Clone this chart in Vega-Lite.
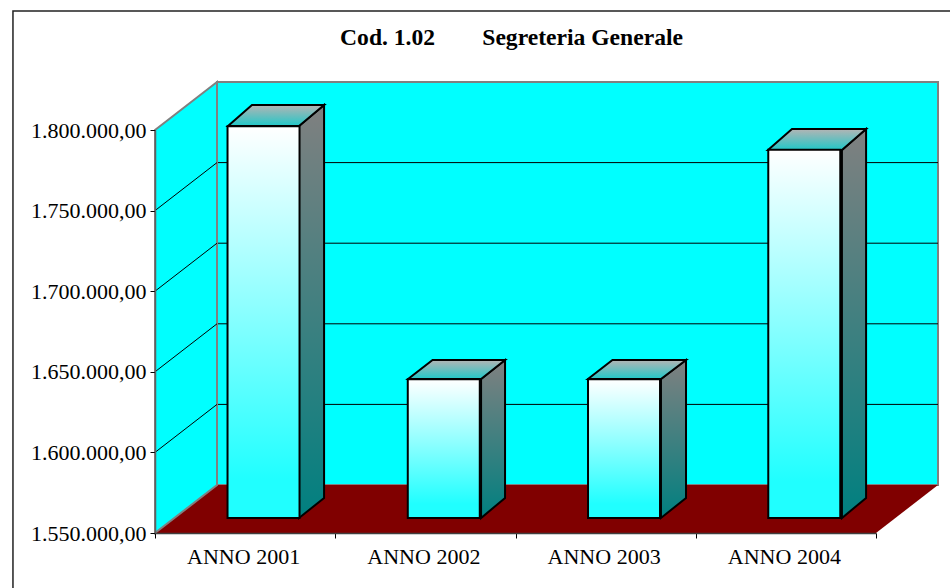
{
"$schema":"https://vega.github.io/schema/vega-lite/v6.json",
"width":721,"height":403,
"autosize":{"type":"none"},
"padding":{"left":155,"top":130,"right":74,"bottom":55},
"background":"white",
"config":{"locale":{"number":{"decimal":",","thousands":".","grouping":[3],"currency":["€",""]}},"view":{"stroke":null}},
"title":{"text":"Cod. 1.02\u00a0\u00a0\u00a0\u00a0\u00a0\u00a0\u00a0\u00a0Segreteria Generale","anchor":"middle","dx":-4,"offset":-39,"font":"Liberation Serif","fontSize":23.6,"fontWeight":"bold","color":"black"},
"datasets":{
"frame":[{"x0":-0.788,"x1":4.6,"y0":1500000,"y1":1873823}],
"backwall":[{"x":0.344,"y":1829778,"y2":1579777},{"x":4.344,"y":1829778,"y2":1579777}],
"leftwall":[{"x":0,"y":1800000,"y2":1550000},{"x":0.344,"y":1829778,"y2":1579777}],
"floor":[{"x":0,"y":1550000,"y2":1550000},{"x":0.344,"y":1579777,"y2":1550000},{"x":4,"y":1579777,"y2":1550000},{"x":4.344,"y":1579777,"y2":1579777}],
"grid":[
{"g":"1600000","x":0,"y":1600000},{"g":"1600000","x":0.344,"y":1629777},{"g":"1600000","x":4.344,"y":1629777},
{"g":"1650000","x":0,"y":1650000},{"g":"1650000","x":0.344,"y":1679777},{"g":"1650000","x":4.344,"y":1679777},
{"g":"1700000","x":0,"y":1700000},{"g":"1700000","x":0.344,"y":1729777},{"g":"1700000","x":4.344,"y":1729777},
{"g":"1750000","x":0,"y":1750000},{"g":"1750000","x":0.344,"y":1779777},{"g":"1750000","x":4.344,"y":1779777}
],
"bars":[
{"anno":"ANNO 2001","c":0.5,"value":1793000},
{"anno":"ANNO 2002","c":1.5,"value":1636000},
{"anno":"ANNO 2003","c":2.5,"value":1636000},
{"anno":"ANNO 2004","c":3.5,"value":1778500}
],
"side":[
{"anno":"ANNO 2001","x":0.799,"y":1802482,"y2":1559305},{"anno":"ANNO 2001","x":0.938,"y":1815510,"y2":1571712},
{"anno":"ANNO 2002","x":1.809,"y":1645534,"y2":1559305},{"anno":"ANNO 2002","x":1.942,"y":1657321,"y2":1571712},
{"anno":"ANNO 2003","x":2.807,"y":1645534,"y2":1559305},{"anno":"ANNO 2003","x":2.946,"y":1657321,"y2":1571712},
{"anno":"ANNO 2004","x":3.811,"y":1787594,"y2":1559305},{"anno":"ANNO 2004","x":3.945,"y":1800621,"y2":1571712}
],
"top":[
{"anno":"ANNO 2001","x":0.405,"y":1802482,"y2":1802482},{"anno":"ANNO 2001","x":0.538,"y":1815510,"y2":1802482},{"anno":"ANNO 2001","x":0.799,"y":1815510,"y2":1802482},{"anno":"ANNO 2001","x":0.938,"y":1815510,"y2":1815510},
{"anno":"ANNO 2002","x":1.404,"y":1645534,"y2":1645534},{"anno":"ANNO 2002","x":1.540,"y":1657321,"y2":1645534},{"anno":"ANNO 2002","x":1.809,"y":1657321,"y2":1645534},{"anno":"ANNO 2002","x":1.942,"y":1657321,"y2":1657321},
{"anno":"ANNO 2003","x":2.402,"y":1645534,"y2":1645534},{"anno":"ANNO 2003","x":2.538,"y":1657321,"y2":1645534},{"anno":"ANNO 2003","x":2.807,"y":1657321,"y2":1645534},{"anno":"ANNO 2003","x":2.946,"y":1657321,"y2":1657321},
{"anno":"ANNO 2004","x":3.401,"y":1787594,"y2":1787594},{"anno":"ANNO 2004","x":3.534,"y":1800621,"y2":1787594},{"anno":"ANNO 2004","x":3.811,"y":1800621,"y2":1787594},{"anno":"ANNO 2004","x":3.945,"y":1800621,"y2":1800621}
]
},
"encoding":{
"x":{"field":"x","type":"quantitative","scale":{"domain":[0,4],"nice":false,"zero":false,"padding":0},
"axis":{"title":null,"grid":false,"values":[0,0.5,1,1.5,2,2.5,3,3.5,4],"labelExpr":"datum.value==0.5?'ANNO 2001':datum.value==1.5?'ANNO 2002':datum.value==2.5?'ANNO 2003':datum.value==3.5?'ANNO 2004':''","labelFont":"Liberation Serif","labelFontSize":22,"labelColor":"black","labelPadding":8,"labelOffset":-2,"labelOverlap":false,"labelFlush":false,"labelBound":false,"tickColor":"black","tickSize":5,"tickOpacity":{"condition":{"test":"datum.value%1===0","value":1},"value":0},"domainColor":"#404040","domainWidth":1.5,"zindex":1}},
"y":{"field":"y","type":"quantitative","scale":{"domain":[1550000,1800000],"nice":false,"zero":false,"padding":0},
"axis":{"title":null,"grid":false,"values":[1550000,1600000,1650000,1700000,1750000,1800000],"format":",.2f","labelFont":"Liberation Serif","labelFontSize":22,"labelColor":"black","labelPadding":4,"labelOverlap":false,"labelFlush":false,"labelBound":false,"tickColor":"black","tickSize":5,"domainColor":"#606060","domainWidth":1.5,"zindex":1}},
"y2":{"field":"y2"}
},
"layer":[
{"data":{"name":"frame"},"mark":{"type":"rect","fillOpacity":0,"stroke":"#222222","strokeWidth":1.5},
 "encoding":{"x":{"field":"x0","type":"quantitative","scale":{"domain":[0,4],"nice":false,"zero":false,"padding":0}},"x2":{"field":"x1"},"y":{"field":"y0","type":"quantitative"},"y2":{"field":"y1"}}},
{"data":{"name":"backwall"},"mark":{"type":"area","orient":"vertical","color":"#00FFFF","stroke":"#808080","strokeWidth":2}},
{"data":{"name":"grid"},"mark":{"type":"line","color":"black","strokeWidth":1},"encoding":{"detail":{"field":"g"},"y2":null,"order":{"field":"x","type":"quantitative"}}},
{"data":{"name":"floor"},"mark":{"type":"area","orient":"vertical","color":"#800000"}},
{"data":{"name":"leftwall"},"mark":{"type":"area","orient":"vertical","color":"#00FFFF","stroke":"#808080","strokeWidth":2}},
{"data":{"name":"grid"},"transform":[{"filter":"datum.x<0.5"}],"mark":{"type":"line","color":"black","strokeWidth":1},"encoding":{"detail":{"field":"g"},"y2":null}},
{"data":{"name":"side"},"mark":{"type":"area","orient":"vertical","stroke":"black","strokeWidth":2,"color":{"gradient":"linear","x1":0,"y1":0,"x2":0,"y2":1,"stops":[{"offset":0,"color":"#808080"},{"offset":1,"color":"#008080"}]}},"encoding":{"detail":{"field":"anno"}}},
{"data":{"name":"top"},"mark":{"type":"area","orient":"vertical","stroke":"black","strokeWidth":2,"color":{"gradient":"linear","x1":0,"y1":0,"x2":0,"y2":1,"stops":[{"offset":0,"color":"#B4B4B4"},{"offset":1,"color":"#20C8C8"}]}},"encoding":{"detail":{"field":"anno"}}},
{"data":{"name":"bars"},"mark":{"type":"bar","width":72,"xOffset":18.4,"yOffset":-15,"y2Offset":-15,"stroke":"black","strokeWidth":2,"color":{"gradient":"linear","x1":0,"y1":0,"x2":0,"y2":1,"stops":[{"offset":0,"color":"#FFFFFF"},{"offset":0.9,"color":"#20FFFF"},{"offset":1,"color":"#20FFFF"}]}},
 "encoding":{"x":{"field":"c","type":"quantitative","scale":{"domain":[0,4],"nice":false,"zero":false,"padding":0}},"y":{"field":"value","type":"quantitative"},"y2":{"datum":1550000}}}
]
}
